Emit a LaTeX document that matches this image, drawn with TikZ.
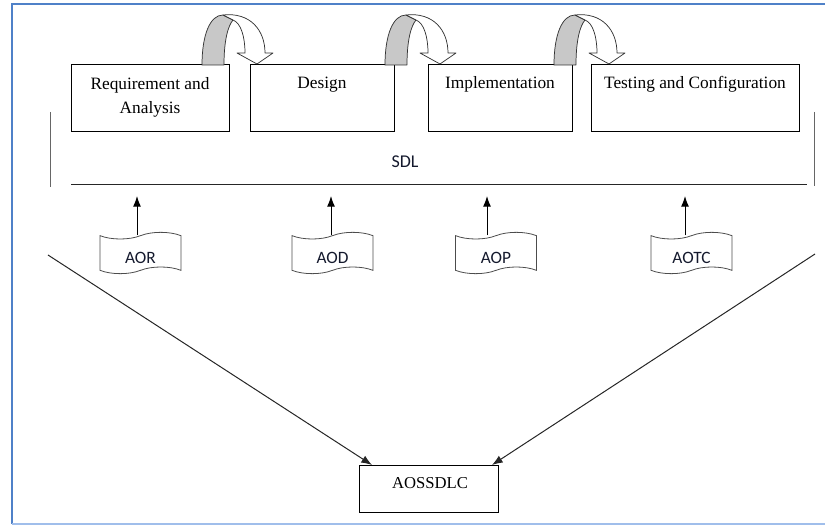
\documentclass[tikz,border=0pt]{standalone}
\usepackage{fontspec}
\setmainfont{Liberation Serif}
\newfontfamily\calib{Carlito}
\usetikzlibrary{arrows.meta,shapes.symbols}
\definecolor{frameblue}{RGB}{79,129,200}
\definecolor{framelight}{RGB}{160,190,235}
\definecolor{docblue}{RGB}{20,25,45}
\definecolor{curlgray}{RGB}{200,200,200}
\tikzset{
 box/.style={draw=black, line width=0.75pt, inner sep=0pt, outer sep=0pt},
 btxt/.style={font=\fontsize{13}{18}\selectfont, inner sep=0pt, align=center},
 doc/.style={tape, draw=black!70, line width=0.6pt, minimum width=60.75pt, minimum height=31pt,
   tape bend height=5pt, inner sep=0pt, font=\calib\fontsize{13}{15}\selectfont, text=docblue,
   text height=16.5pt, text depth=0pt},
 arr/.style={-{Latex[length=8pt,width=6pt]}, line width=0.75pt},
 curlline/.style={draw=black!80, line width=0.55pt, line join=round},
 uturn/.pic={
   \path[curlline, fill=curlgray] (0,0) .. controls (0,-30) and (8,-50) .. (21,-50) -- (31,-45)
      .. controls (26,-39) and (22,-25) .. (22,0) -- cycle;
   \path[curlline, fill=white] (21,-50) .. controls (48,-53) and (63,-35) .. (63,-12) -- (71,-12)
      -- (55,-1) -- (35,-12) -- (43,-12) .. controls (43,-28) and (39,-42) .. (31,-45) -- cycle;
 }
}
\begin{document}
\begin{tikzpicture}[x=0.75pt,y=-0.75pt]
\useasboundingbox (0,0) rectangle (825,527);
% frame
\draw[frameblue, line width=1.8pt] (12,524) -- (12,4) -- (825,4);
\draw[framelight, line width=1.2pt] (12,524) -- (825,524);

% process boxes
\node[box, minimum width=118.5pt, minimum height=50.25pt] (b1) at (150,98.5) {};
\node[box, minimum width=108pt, minimum height=50.25pt] (b2) at (322,98.5) {};
\node[box, minimum width=108pt, minimum height=50.25pt] (b3) at (500,98.5) {};
\node[box, minimum width=156pt, minimum height=50.25pt] (b4) at (695,98.5) {};
\node[btxt, anchor=north] (t1) at (150,77) {Requirement and\\Analysis};
\node[btxt, anchor=base] (t2) at (322,89) {Design};
\node[btxt, anchor=base] (t3) at (500,89) {Implementation};
\node[btxt, anchor=base] (t4) at (695,89) {Testing and Configuration};

% curved arrows
\pic at (202,65) {uturn};
\pic at (385,65) {uturn};
\pic at (554,65) {uturn};

% SDL band
\coordinate (vl1) at (50,112); \coordinate (vl2) at (50,187);
\coordinate (vr1) at (814,112); \coordinate (vr2) at (814,186);
\draw[black!60, line width=0.75pt] (vl1) -- (vl2);
\draw[black!60, line width=0.75pt] (vr1) -- (vr2);
\coordinate (sl) at (71,185); \coordinate (sr) at (807,185);
\draw[black!85, line width=0.75pt] (sl) -- (sr);
\node[font=\calib\fontsize{13.5}{15}\selectfont, text=docblue, anchor=base, inner sep=0pt] (sdl) at (405,168) {SDL};

% documents
\node[doc] (d1) at (140.5,253) {AOR};
\node[doc] (d2) at (332.5,253) {AOD};
\node[doc] (d3) at (496,253) {AOP};
\node[doc] (d4) at (691.5,253) {AOTC};
\coordinate (u1) at (137,196);
\coordinate (u2) at (331,196);
\coordinate (u3) at (487,196);
\coordinate (u4) at (685,196);
\draw[arr] (u1 |- d1.north) -- (u1);
\draw[arr] (u2 |- d2.north) -- (u2);
\draw[arr] (u3 |- d3.north) -- (u3);
\draw[arr] (u4 |- d4.north) -- (u4);

% final box
\node[box, minimum width=104.25pt, minimum height=35.25pt] (ao) at (428.5,488.5) {};
\node[btxt, font=\fontsize{12.5}{15}\selectfont, anchor=base] (aot) at (430,488) {AOSSDLC};
\coordinate (lt) at (48,255);
\coordinate (rt) at (815,254);
\draw[arr, black!85] (lt) -- ([xshift=9.75pt]ao.north west);
\draw[arr, black!85] (rt) -- ([xshift=-4.5pt]ao.north east);
\end{tikzpicture}
\end{document}
